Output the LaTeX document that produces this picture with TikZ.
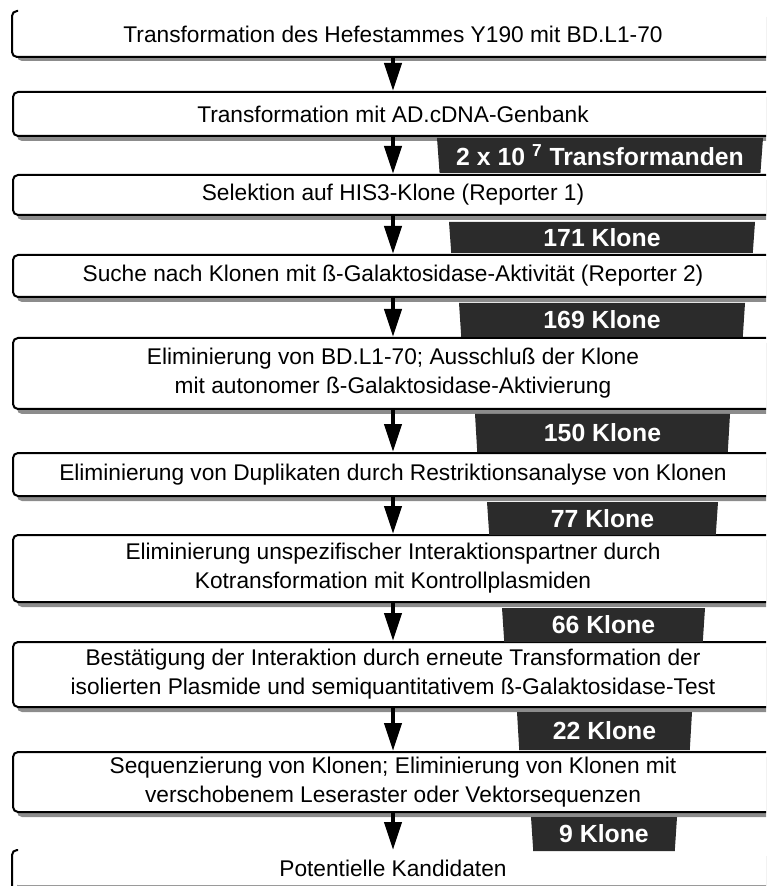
\documentclass[tikz,border=0pt]{standalone}
\usepackage{fontspec}
\setmainfont{Liberation Sans}
\usetikzlibrary{arrows.meta,shapes.geometric,shadows}
\definecolor{dunkel}{HTML}{2B2B2B}
\definecolor{schatten}{HTML}{8C8C8C}
\tikzset{
    %Define standard arrow tip
    >={Triangle[length=14pt,width=8.5pt]},
    %Define style for boxes
    kasten/.style={
           rectangle,
           rounded corners=2.5pt,
           draw=black, line width=1pt,
           fill=white,
           minimum width=380pt,
           inner sep=0pt,
           align=center,
           font=\fontsize{11.35pt}{14.5pt}\selectfont,
           drop shadow={shadow xshift=2pt, shadow yshift=-2.5pt,
                        fill=schatten, opacity=1}},
    offen/.style={
           kasten,
           draw=none},
    %Define style for the counts
    zahl/.style={
           trapezium,
           trapezium angle=83,
           trapezium stretches body,
           shape border rotate=180,
           fill=dunkel,
           text=white,
           inner sep=0pt,
           font=\fontsize{12.4pt}{14pt}\selectfont\bfseries},
    % Define arrow style
    pil/.style={
           ->,
           line width=2pt},
    rahmen/.style={
           line width=1pt,
           rounded corners=2.5pt}
}
\begin{document}
\begin{tikzpicture}[x=0.5pt, y=-0.5pt]
\useasboundingbox (0,0) rectangle (766,886);
\clip (0,0) rectangle (766,886);

%hefestamm
\node[offen, minimum height=22pt] (hefe) at (393,34)
  {Transformation des Hefestammes Y190 mit BD.L1-70};
\draw[rahmen] ([xshift=3pt]hefe.north west) -- (hefe.north west)
  -- (hefe.south west) -- (hefe.south east);

%genbank, arrow from hefe
\node[kasten, minimum height=22pt] (genbank) at (393,114)
  {Transformation mit AD.cDNA-Genbank}
  edge[pil, <-] (hefe);
\node[kasten, minimum height=20pt] (his) at (393,195)
  {Selektion auf HIS3-Klone (Reporter 1)}
  edge[pil, <-] (genbank);
\node[kasten, minimum height=21pt] (galakto) at (393,276)
  {Suche nach Klonen mit ß-Galaktosidase-Aktivität (Reporter 2)}
  edge[pil, <-] (his);
\node[kasten, minimum height=35.5pt] (bdl) at (393,373.5)
  {Eliminierung von BD.L1-70; Ausschluß der Klone\\
   mit autonomer ß-Galaktosidase-Aktivierung}
  edge[pil, <-] (galakto);
\node[kasten, minimum height=21.5pt] (duplikat) at (393,474.5)
  {Eliminierung von Duplikaten durch Restriktionsanalyse von Klonen}
  edge[pil, <-] (bdl);
\node[kasten, minimum height=33.5pt] (kontroll) at (393,568.5)
  {Eliminierung unspezifischer Interaktionspartner durch\\
   Kotransformation mit Kontrollplasmiden}
  edge[pil, <-] (duplikat);
\node[kasten, minimum height=32.5pt] (test) at (393,674.5)
  {Bestätigung der Interaktion durch erneute Transformation der\\
   isolierten Plasmide und semiquantitativem ß-Galaktosidase-Test}
  edge[pil, <-] (kontroll);
\node[kasten, minimum height=30pt] (sequenz) at (393,782)
  {Sequenzierung von Klonen; Eliminierung von Klonen mit\\
   verschobenem Leseraster oder Vektorsequenzen}
  edge[pil, <-] (test);

%kandidaten
\node[offen, minimum height=17pt] (kandidat) at (393,868)
  {Potentielle Kandidaten}
  edge[pil, <-] (sequenz);
\draw[rahmen] ([xshift=3pt]kandidat.north west) -- (kandidat.north west)
  -- ([yshift=-3pt]kandidat.south west);

%counts
\node[zahl, minimum width=163pt, minimum height=17.5pt] (trafo) at (600,155.5)
  {2 x 10 \textsuperscript{7} Transformanden};
\node[zahl, minimum width=153pt, minimum height=15.5pt] (k171) at (602,237.5) {171 Klone};
\node[zahl, minimum width=143pt, minimum height=17pt] (k169) at (602,320) {169 Klone};
\node[zahl, minimum width=127.5pt, minimum height=19pt] (k150) at (602.5,433) {150 Klone};
\node[zahl, minimum width=115.5pt, minimum height=16.5pt] (k77) at (602.5,518.5) {77 Klone};
\node[zahl, minimum width=101.5pt, minimum height=17pt] (k66) at (603.5,625) {66 Klone};
\node[zahl, minimum width=87.5pt, minimum height=19pt] (k22) at (604.5,731) {22 Klone};
\node[zahl, minimum width=73pt, minimum height=17pt] (k9) at (604,834) {9 Klone};

\end{tikzpicture}
\end{document}
